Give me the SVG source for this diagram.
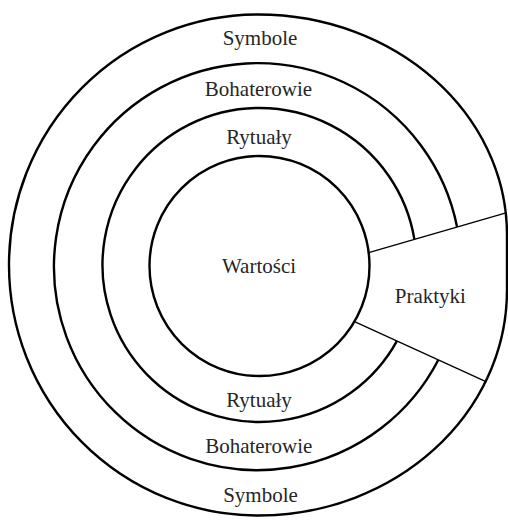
<svg xmlns="http://www.w3.org/2000/svg" width="508" height="520" viewBox="0 0 508 520">
<style>
.ring{fill:none;stroke:#000;stroke-width:2.4}
.cut{fill:none;stroke:#000;stroke-width:1.3}
.lbl{font-family:'Liberation Serif',serif;font-size:21px;fill:#262626;text-anchor:middle}
</style>
<rect width="508" height="520" fill="#fff"/>
<g id="symbole">
<path class="ring" d="M258,14.5 A249,250.5 0 0 0 258,515.5 C395.5,515.5 507,414.5 507,290 L507,235 C507,113.2 395.5,14.5 258,14.5 Z"/>
<text class="lbl" font-family="Liberation Serif, serif" x="260" y="45">Symbole</text>
<text class="lbl" font-family="Liberation Serif, serif" x="260.5" y="501.7">Symbole</text>
</g>
<g id="bohaterowie">
<path class="ring" d="M457.1,227.1 A203.5,203.5 0 1 0 438.4,359.8"/>
<text class="lbl" font-family="Liberation Serif, serif" x="258.5" y="95.7">Bohaterowie</text>
<text class="lbl" font-family="Liberation Serif, serif" x="258.8" y="453.3">Bohaterowie</text>
</g>
<g id="rytualy">
<path class="ring" d="M414.4,239.4 A157,157 0 1 0 397,340.8"/>
<text class="lbl" font-family="Liberation Serif, serif" x="259" y="144.3">Rytuały</text>
<text class="lbl" font-family="Liberation Serif, serif" x="259" y="406.7">Rytuały</text>
</g>
<g id="wartosci">
<circle class="ring" cx="259.5" cy="266" r="110"/>
<text class="lbl" font-family="Liberation Serif, serif" x="259" y="273.3">Wartości</text>
</g>
<g id="praktyki">
<text class="lbl" font-family="Liberation Serif, serif" x="430.3" y="302.7">Praktyki</text>
</g>
<g id="connectors">
<line class="cut" x1="368.7" y1="252.7" x2="506" y2="212.9"/>
<line class="cut" x1="354.5" y1="321.7" x2="486.5" y2="381.8"/>
</g>
</svg>
